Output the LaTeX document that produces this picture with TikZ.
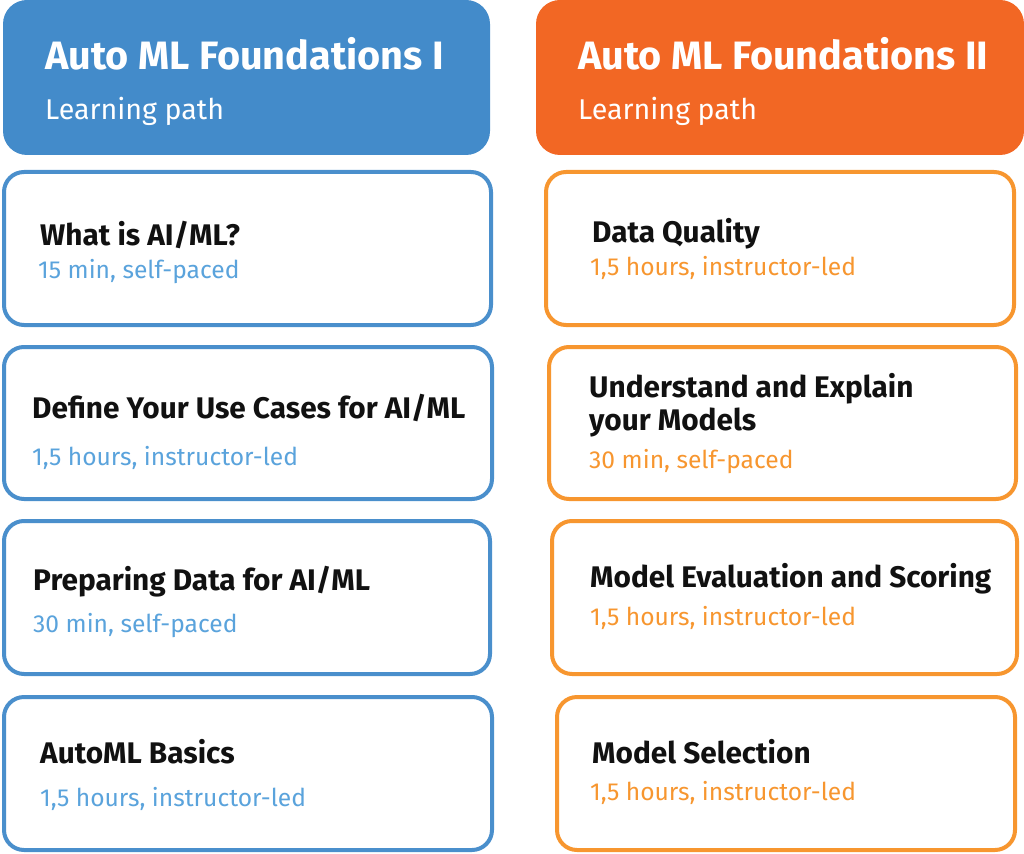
\documentclass[tikz,border=0pt]{standalone}
\usepackage{fontspec}
\setmainfont{Fira Sans}
\definecolor{hblue}{HTML}{438BCA}
\definecolor{bblue}{HTML}{4A8FCC}
\definecolor{tblue}{HTML}{5AA3DC}
\definecolor{horange}{HTML}{F26724}
\definecolor{borange}{HTML}{F7962F}
\definecolor{torange}{HTML}{F7962F}
\definecolor{ink}{HTML}{111111}
\begin{document}
\begin{tikzpicture}[x=1pt,y=-1pt,
  hdr/.style={fill=#1,draw=none,rounded corners=24pt,inner sep=0pt},
  card/.style={draw=#1,line width=4pt,fill=white,rounded corners=20pt,inner sep=0pt},
  htitle/.style={anchor=base west,inner sep=0pt,text=white,font=\fontsize{39.6}{44}\selectfont\bfseries},
  hsub/.style={anchor=base west,inner sep=0pt,text=white,font=\fontsize{28.6}{32}\selectfont},
  ctitle/.style={anchor=base west,inner sep=0pt,text=ink,font=\fontsize{29.8}{33}\selectfont\bfseries,align=left},
  csub/.style={anchor=base west,inner sep=0pt,text=#1,font=\fontsize{24.6}{28}\selectfont}]
\useasboundingbox (0,0) rectangle (1024,853);
% headers
\node[hdr=hblue,minimum width=487pt,minimum height=155pt] (hl) at (246.5,77.5) {};
\node[hdr=horange,minimum width=488pt,minimum height=155pt] (hr) at (780,77.5) {};
\node[htitle] (hlt) at (45,70) {Auto ML Foundations I};
\node[hsub] (hls) at (45,120) {Learning path};
\node[htitle] (hrt) at (578,70) {Auto ML Foundations II};
\node[hsub] (hrs) at (578,120) {Learning path};
% left cards
\node[card=bblue,minimum width=487pt,minimum height=153pt] (l1) at (247.5,248.5) {};
\node[card=bblue,minimum width=488pt,minimum height=152pt] (l2) at (248,423) {};
\node[card=bblue,minimum width=486pt,minimum height=153pt] (l3) at (247,597.5) {};
\node[card=bblue,minimum width=488pt,minimum height=153pt] (l4) at (248,773.5) {};
% right cards
\node[card=borange,minimum width=468pt,minimum height=153pt] (r1) at (780,248.5) {};
\node[card=borange,minimum width=467pt,minimum height=152pt] (r2) at (782.5,423) {};
\node[card=borange,minimum width=465pt,minimum height=153pt] (r3) at (784.5,597.5) {};
\node[card=borange,minimum width=458pt,minimum height=153pt] (r4) at (786,773.5) {};
% left texts
\node[ctitle] (l1t) at (40,245) {What is AI/ML?};
\node[csub=tblue] (l1s) at (38,278) {15 min, self-paced};
\node[ctitle] (l2t) at (32,418) {Define Your Use Cases for AI/ML};
\node[csub=tblue] (l2s) at (32,465) {1,5 hours, instructor-led};
\node[ctitle] (l3t) at (33,590) {Preparing Data for AI/ML};
\node[csub=tblue] (l3s) at (33,632) {30 min, self-paced};
\node[ctitle] (l4t) at (40,763) {AutoML Basics};
\node[csub=tblue] (l4s) at (40,806) {1,5 hours, instructor-led};
% right texts
\node[ctitle] (r1t) at (592,242) {Data Quality};
\node[csub=torange] (r1s) at (590,275) {1,5 hours, instructor-led};
\node[ctitle] (r2t) at (589,397) {Understand and Explain};
\node[ctitle] (r2u) at (589,430) {your Models};
\node[csub=torange] (r2s) at (589,468) {30 min, self-paced};
\node[ctitle] (r3t) at (590,587) {Model Evaluation and Scoring};
\node[csub=torange] (r3s) at (590,625) {1,5 hours, instructor-led};
\node[ctitle] (r4t) at (592,763) {Model Selection};
\node[csub=torange] (r4s) at (590,800) {1,5 hours, instructor-led};
\end{tikzpicture}
\end{document}
